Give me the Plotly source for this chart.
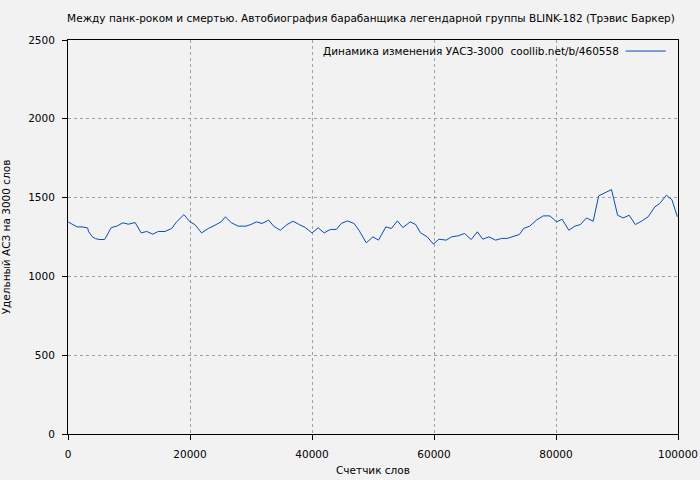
import plotly.graph_objects as go

# Word counter positions and specific "УАСЗ-3000" values
words = [
    0, 1000, 1500, 2300, 3200, 3400, 4000, 4500, 5100, 6000,
    6700, 7100, 8000, 9000, 9900, 11000, 12000, 12900, 13900, 14800,
    15900, 17000, 17800, 19000, 20000, 20800, 21900, 23000, 24100, 25100,
    25800, 26800, 27900, 29200, 30100, 30900, 31800,
    32900, 33700, 34800, 35900, 36900, 37800, 38900, 40000, 41000, 42000,
    43000, 44000, 44800, 45800, 46900, 47700, 48900, 50000, 50900, 52100,
    53000, 54000, 54900, 56100, 57000, 57800, 58900, 59900, 60800, 62000,
    62900, 63900,
    65000, 66100, 67100, 68000, 69000, 70100, 71100, 72000, 73000, 74000,
    74700, 75700, 76800, 77900, 79000, 80100, 81000, 82100, 83100, 84000,
    85000, 86100, 87000, 88100, 89100, 90100, 91000, 92000, 93000, 94000,
    95100, 96200, 97000, 98100, 99000, 99900,
]
values = [
    1346, 1325, 1314, 1314, 1308, 1283, 1251, 1240, 1234, 1234,
    1283, 1310, 1319, 1340, 1331, 1342, 1276, 1285, 1268, 1285,
    1285, 1304, 1346, 1392, 1346, 1329, 1276, 1304, 1325, 1346,
    1378, 1340, 1319, 1319, 1331, 1346, 1336,
    1357, 1319, 1293, 1329, 1350, 1331, 1310, 1276, 1308, 1276,
    1298, 1298, 1336, 1352, 1336, 1293, 1213, 1251, 1230, 1314,
    1304, 1352, 1310, 1346, 1329, 1276, 1251, 1205, 1236, 1230,
    1251, 1257,
    1272, 1234, 1283, 1236, 1251, 1230, 1241, 1241, 1255, 1266,
    1304, 1319, 1357, 1384, 1384, 1346, 1363, 1293, 1319, 1329,
    1371, 1350, 1511, 1532, 1551, 1388, 1371, 1388, 1329, 1350,
    1378, 1441, 1462, 1515, 1487, 1378,
]

TITLE = "Между панк-роком и смертью. Автобиография барабанщика легендарной группы BLINK-182 (Трэвис Баркер)"
SERIES_NAME = "Динамика изменения УАСЗ-3000  coollib.net/b/460558"
LINE_COLOR = "#0a4cb4"
BG = "#f2f2f2"
FONT = "DejaVu Sans"
FS = 10.5

fig = go.Figure()
fig.add_trace(
    go.Scatter(
        x=words,
        y=values,
        mode="lines",
        name=SERIES_NAME,
        line=dict(color=LINE_COLOR, width=1),
        showlegend=False,
    )
)

axis_common = dict(
    showline=True,
    linecolor="black",
    linewidth=1,
    mirror=True,
    ticks="outside",
    ticklen=5,
    tickcolor="black",
    ticklabelstandoff=5,
    showgrid=True,
    gridcolor="#a0a0a0",
    griddash="dot",
    gridwidth=1,
    zeroline=False,
    automargin=False,
    tickfont=dict(family=FONT, size=FS, color="black"),
)

fig.update_xaxes(
    **axis_common,
    range=[0, 100000],
    tickvals=[0, 20000, 40000, 60000, 80000, 100000],
    ticktext=["0", "20000", "40000", "60000", "80000", "100000"],
    title=dict(text="Счетчик слов", font=dict(family=FONT, size=FS, color="black"), standoff=8),
)
fig.update_yaxes(
    **axis_common,
    range=[0, 2500],
    tickvals=[0, 500, 1000, 1500, 2000, 2500],
    title=dict(text="Удельный АСЗ на 3000 слов", font=dict(family=FONT, size=FS, color="black"), standoff=29),
)

# Legend drawn manually: text first, line sample to the right
fig.add_annotation(
    x=0.907, y=0.972, xref="paper", yref="paper",
    text=SERIES_NAME, showarrow=False, xanchor="right", yanchor="middle",
    font=dict(family=FONT, size=FS, color="black"),
)
fig.add_shape(
    type="line", xref="paper", yref="paper",
    x0=0.914, x1=0.980, y0=0.972, y1=0.972,
    line=dict(color=LINE_COLOR, width=1),
)

fig.update_layout(
    width=700,
    height=480,
    paper_bgcolor=BG,
    plot_bgcolor=BG,
    margin=dict(l=68, r=22, t=40, b=46, autoexpand=False),
    title=dict(
        text=TITLE, x=0.53, xanchor="center", y=0.961, yanchor="middle",
        font=dict(family=FONT, size=FS, color="black"),
    ),
    font=dict(family=FONT, size=FS, color="black"),
)

# drop the default page margin so the figure fills the window
fig.write_html(
    "out.html",
    config={"displayModeBar": False},
    post_script="document.body.style.margin='0';document.body.style.background='#f2f2f2';",
)
